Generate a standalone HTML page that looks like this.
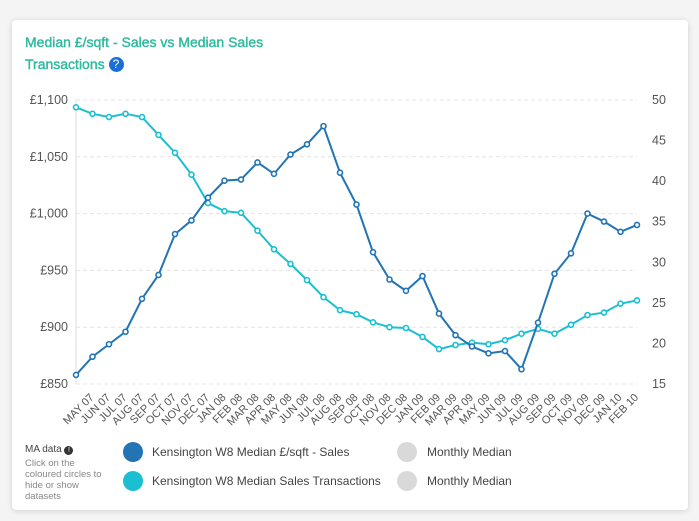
<!DOCTYPE html>
<html><head><meta charset="utf-8">
<style>
body{margin:0;width:699px;height:521px;background:#f4f4f4;font-family:"Liberation Sans",sans-serif;overflow:hidden;position:relative}
.card{position:absolute;left:12px;top:20px;width:676px;height:490px;background:#fff;border-radius:4px;box-shadow:0 1px 6px rgba(0,0,0,0.15)}
.title{position:absolute;left:25px;top:31px;color:#2dba9e;font-size:14px;line-height:22px;font-weight:normal;width:300px;-webkit-text-stroke:0.4px #2dba9e}
.q{display:inline-block;width:15px;height:15px;border-radius:50%;background:#1a6fd6;color:#fff;font-size:12px;text-align:center;line-height:15px;vertical-align:1px;-webkit-text-stroke:0}
.lg{position:absolute;font-size:12px;color:#444}
.dot{position:absolute;width:20px;height:20px;border-radius:50%}
</style></head><body>
<div class="card"></div>
<div class="title">Median £/sqft - Sales vs Median Sales<br>Transactions <span class="q">?</span></div>
<svg id="ch" width="699" height="521" style="position:absolute;left:0;top:0"></svg>
<div class="lg" style="left:25px;top:444px;font-size:10px;color:#444">MA data <span style="display:inline-block;width:9px;height:9px;border-radius:50%;background:#333;color:#fff;font-size:7px;text-align:center;line-height:9px">!</span></div>
<div class="lg" style="left:25px;top:458px;font-size:9.5px;color:#888;width:82px;line-height:11px">Click on the coloured circles to hide or show datasets</div>
<div class="dot" style="left:123px;top:442px;background:#2374b4"></div>
<div class="lg" style="left:152px;top:445px">Kensington W8 Median £/sqft - Sales</div>
<div class="dot" style="left:123px;top:471px;background:#1bbfd2"></div>
<div class="lg" style="left:152px;top:474px">Kensington W8 Median Sales Transactions</div>
<div class="dot" style="left:397px;top:442px;background:#d9d9d9"></div>
<div class="lg" style="left:427px;top:445px">Monthly Median</div>
<div class="dot" style="left:397px;top:471px;background:#d9d9d9"></div>
<div class="lg" style="left:427px;top:474px">Monthly Median</div>
<script>
const categories=["","MAY 07","JUN 07","JUL 07","AUG 07","SEP 07","OCT 07","NOV 07","DEC 07","JAN 08","FEB 08","MAR 08","APR 08","MAY 08","JUN 08","JUL 08","AUG 08","SEP 08","OCT 08","NOV 08","DEC 08","JAN 09","FEB 09","MAR 09","APR 09","MAY 09","JUN 09","JUL 09","AUG 09","SEP 09","OCT 09","NOV 09","DEC 09","JAN 10","FEB 10"];
const salesValues=[858,874,885,896,925,946,982,994,1014,1029,1030,1045,1035,1052,1061,1077,1036,1008,966,942,932,945,912,893,883,877,879,863,904,947,965,1000,993,984,990];
const transValues=[49.1,48.3,47.9,48.3,47.9,45.7,43.5,40.8,37.3,36.3,36.1,33.9,31.6,29.8,27.8,25.7,24.1,23.6,22.6,22.0,21.9,20.8,19.3,19.8,20.1,19.9,20.4,21.2,21.8,21.2,22.3,23.5,23.8,24.9,25.3];
const leftTicks=[850,900,950,1000,1050,1100];
const leftTickLabels=["£850","£900","£950","£1,000","£1,050","£1,100"];
const rightTicks=[15,20,25,30,35,40,45,50];
const svg=document.getElementById('ch');const NS='http://www.w3.org/2000/svg';
const X0=76,X1=637,YT=100,YB=384;
const x=i=>X0+i*(X1-X0)/(categories.length-1);
const yL=v=>YB-(v-850)/(1100-850)*(YB-YT);
const yR=v=>YB-(v-15)/(50-15)*(YB-YT);
function mk(t,a,p){const e=document.createElementNS(NS,t);for(const k in a)e.setAttribute(k,a[k]);(p||svg).appendChild(e);return e;}
leftTicks.forEach((v,i)=>{
 const g=mk('line',{x1:X0,x2:X1,y1:yL(v),y2:yL(v),stroke:'#e4e4e4','stroke-dasharray':'4 3'});
 
 
 const t=mk('text',{x:68,y:yL(v)+4,'text-anchor':'end','font-size':12.5,fill:'#555'});t.textContent=leftTickLabels[i];
 
 
});
rightTicks.forEach(v=>{
 const t=mk('text',{x:652,y:yR(v)+4,'font-size':12.5,fill:'#555'});t.textContent=v;
 
 
});
const ax=mk('line',{x1:X0,x2:X0,y1:YT,y2:YB,stroke:'#ddd'});


categories.forEach((c,i)=>{
 const t=mk('text',{x:x(i)+2,y:YB+14,'text-anchor':'end','font-size':11,fill:'#555',transform:`rotate(-45 ${x(i)+2} ${YB+14})`});t.textContent=c;
 
 
});
function series(vals,fy,col,name){
 const p=mk('polyline',{points:vals.map((v,i)=>x(i)+','+fy(v)).join(' '),fill:'none',stroke:col,'stroke-width':2});
 
 
 vals.forEach((v,i)=>{const c=mk('circle',{cx:x(i),cy:fy(v),r:2.5,fill:'#fff',stroke:col,'stroke-width':1.6});
 
 });
}
series(transValues,yR,'#1bbfd2','transactions');
series(salesValues,yL,'#2374b4','sales');
</script>
</body></html>
